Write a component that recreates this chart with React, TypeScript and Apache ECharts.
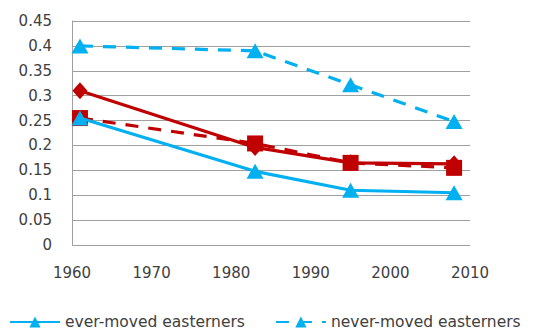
import React, { useEffect, useRef } from "react";
import * as echarts from "echarts";

const years = [1961, 1983, 1995, 2008];
const everMovedEast = [0.255, 0.148, 0.11, 0.105];
const neverMovedEast = [0.4, 0.39, 0.322, 0.248];
const redSolid = [0.31, 0.196, 0.165, 0.163];
const redDashed = [0.255, 0.204, 0.165, 0.155];
const xTicks = [1960, 1970, 1980, 1990, 2000, 2010];
const yTicks = [0, 0.05, 0.1, 0.15, 0.2, 0.25, 0.3, 0.35, 0.4, 0.45];

const pairs = (vals: number[]) => years.map((y, i) => [y, vals[i]]);

export default function App() {
  const ref = useRef<HTMLDivElement>(null);
  useEffect(() => {
    if (!ref.current) return;
    const chart = echarts.init(ref.current, null, { renderer: "svg" });
    const blue = "#00b0f0";
    const red = "#c00000";
    const font = "DejaVu Sans";
    chart.setOption({
      animation: false,
      grid: { left: 72, right: 72, top: 21, bottom: 87 },
      legend: {
        data: ["ever-moved easterners", "never-moved easterners"],
        left: 4,
        top: 309,
        itemWidth: 50,
        itemHeight: 14,
        itemGap: 30,
        textStyle: { fontFamily: font, fontSize: 15.5, color: "#404040" },
      },
      xAxis: {
        type: "value",
        min: xTicks[0],
        max: xTicks[xTicks.length - 1],
        interval: 10,
        axisLine: { show: false },
        axisTick: { show: false },
        splitLine: { show: false },
        axisLabel: {
          margin: 20,
          fontFamily: font,
          fontSize: 15,
          color: "#404040",
          formatter: (v: number) => String(v),
        },
      },
      yAxis: {
        type: "value",
        min: yTicks[0],
        max: yTicks[yTicks.length - 1],
        interval: 0.05,
        axisLine: { show: true, lineStyle: { color: "#a0a0a0", width: 1 } },
        axisTick: { show: false },
        splitLine: { show: true, lineStyle: { color: "#a0a0a0", width: 1 } },
        axisLabel: {
          margin: 20,
          fontFamily: font,
          fontSize: 15,
          color: "#404040",
          formatter: (v: number) => String(parseFloat(v.toFixed(2))),
        },
      },
      series: [
        {
          name: "ever-moved easterners",
          type: "line",
          data: pairs(everMovedEast),
          z: 4,
          color: blue,
          symbol: "triangle",
          symbolSize: [17, 15],
          lineStyle: { color: blue, width: 3.2 },
          itemStyle: { color: blue },
        },
        {
          name: "never-moved easterners",
          type: "line",
          data: pairs(neverMovedEast),
          z: 4,
          color: blue,
          symbol: "triangle",
          symbolSize: [17, 15],
          lineStyle: { color: blue, width: 3.2, type: [13, 10] },
          itemStyle: { color: blue },
        },
        {
          name: "ever-moved westerners",
          type: "line",
          data: pairs(redSolid),
          z: 2,
          color: red,
          symbol: "diamond",
          symbolSize: [15, 17],
          lineStyle: { color: red, width: 3.2 },
          itemStyle: { color: red },
        },
        {
          name: "never-moved westerners",
          type: "line",
          data: pairs(redDashed),
          z: 3,
          color: red,
          symbol: "rect",
          symbolSize: [16, 16],
          lineStyle: { color: red, width: 3.2, type: [13, 10] },
          itemStyle: { color: red },
        },
      ],
    });
    return () => chart.dispose();
  }, []);
  return (
    <div
      ref={ref}
      style={{ position: "absolute", left: 0, top: 0, width: 542, height: 332 }}
    />
  );
}
